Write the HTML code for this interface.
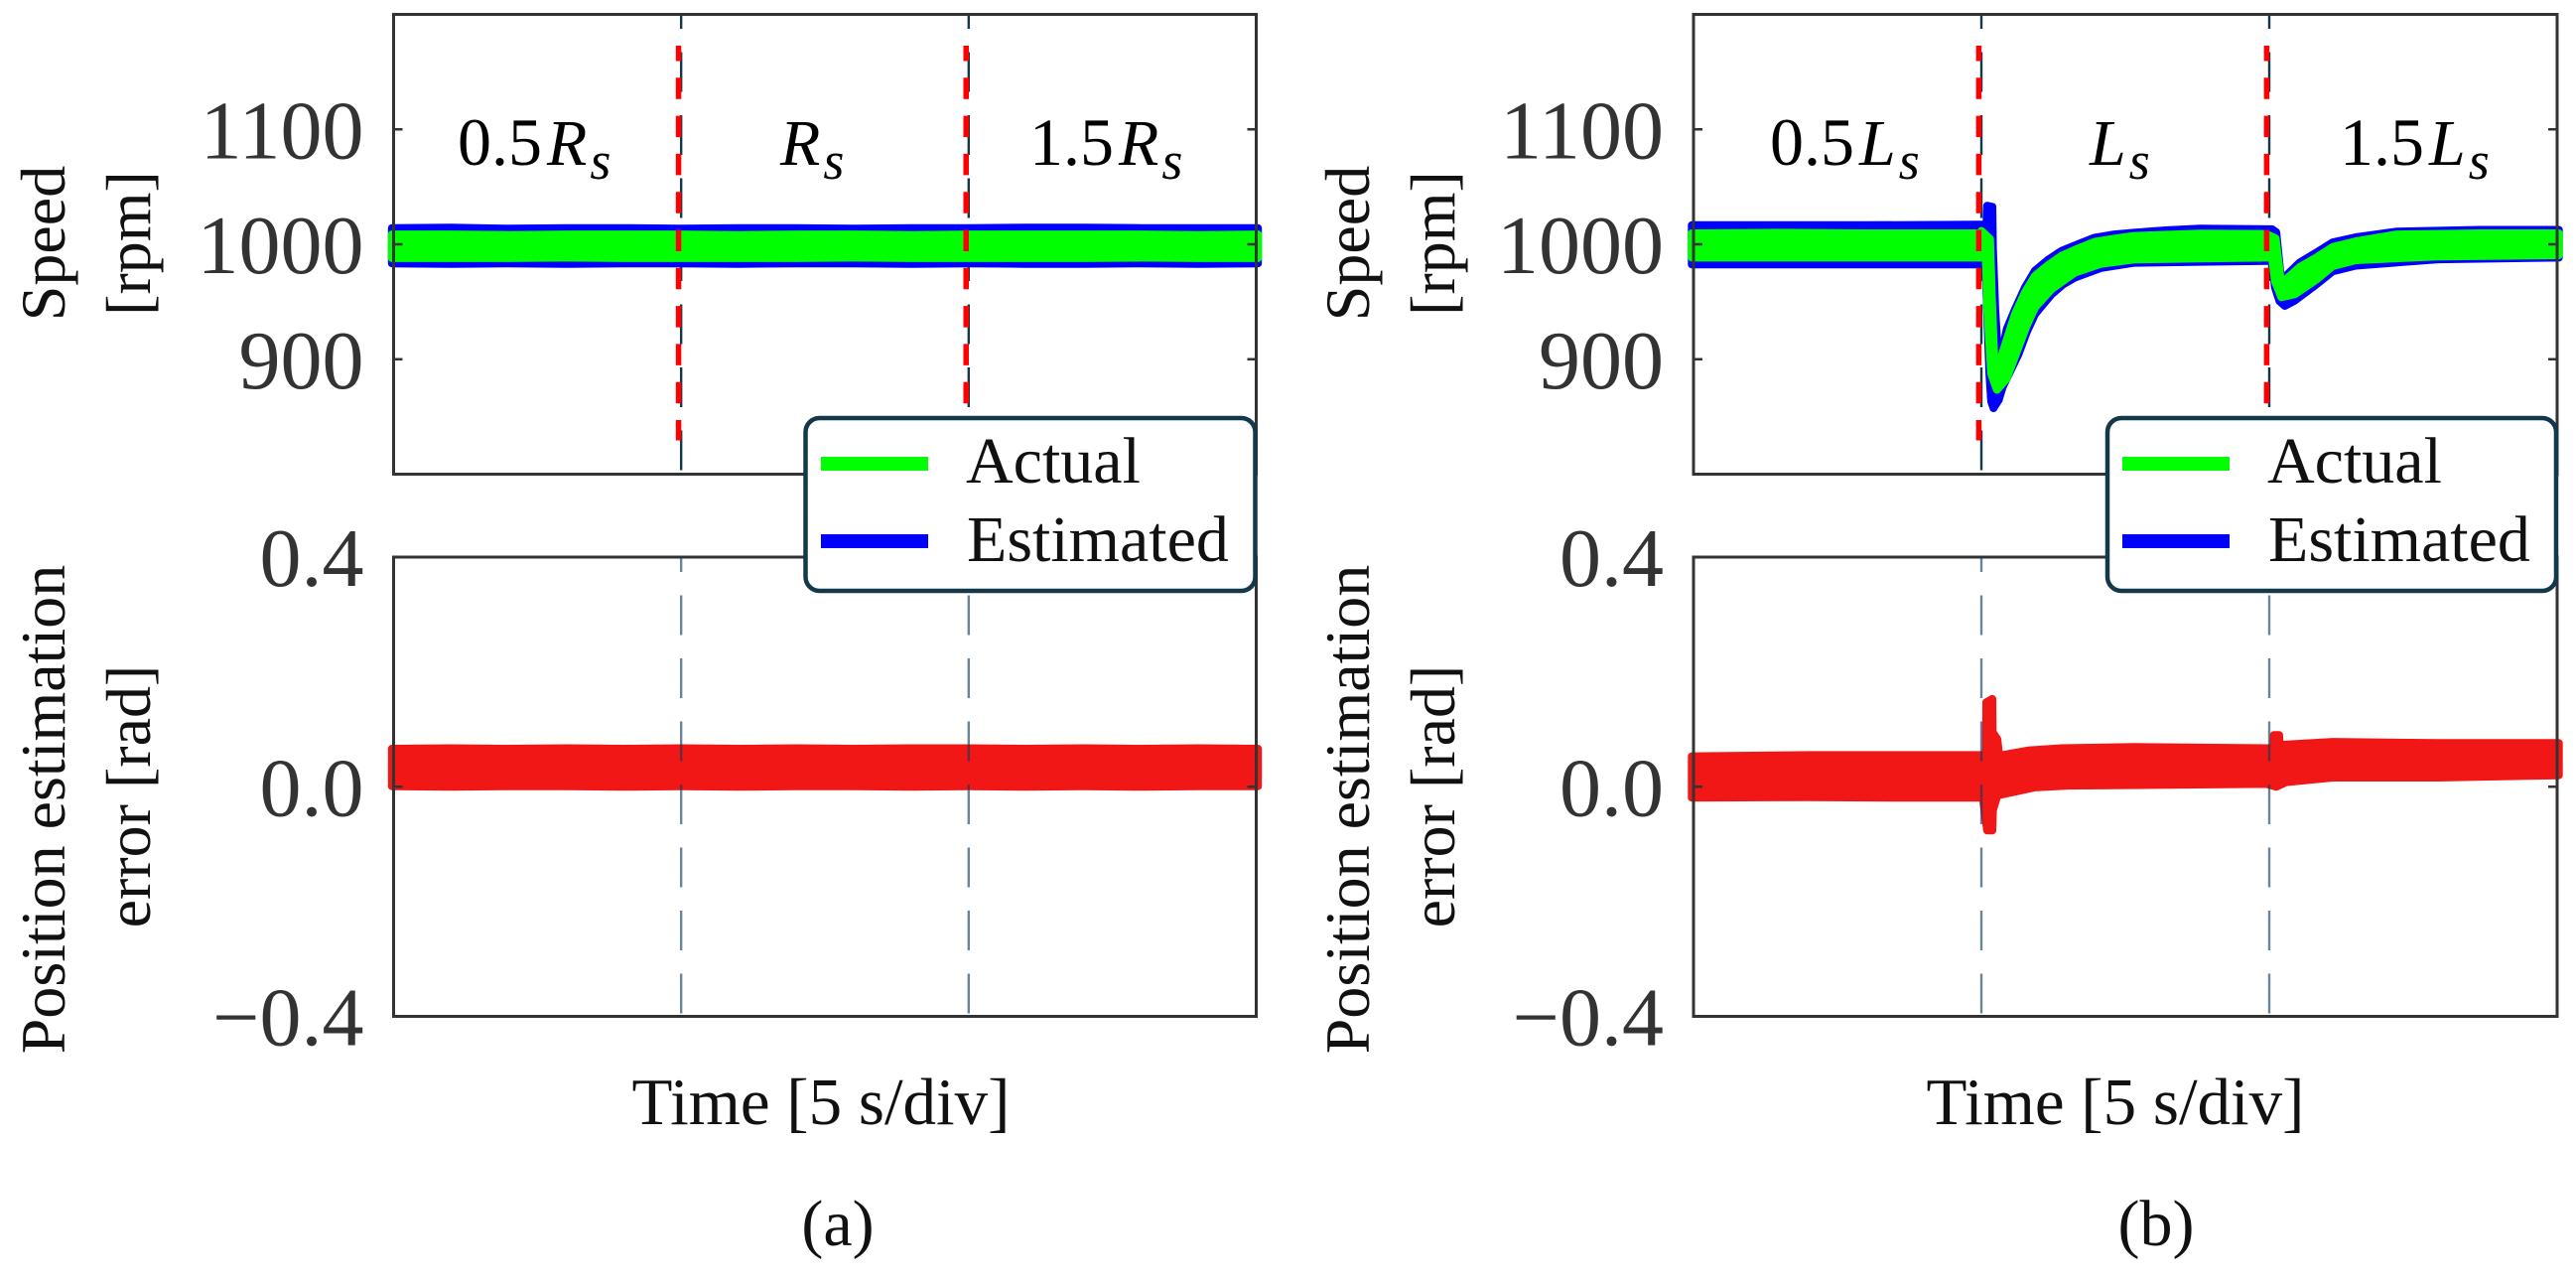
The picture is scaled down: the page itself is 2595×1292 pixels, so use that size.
<!DOCTYPE html>
<html>
<head>
<meta charset="utf-8">
<title>Speed and position estimation error under parameter variation</title>
<style>
html,body{margin:0;padding:0;background:#fff;}
svg{display:block;}
text{font-family:"Liberation Serif","Times New Roman",serif;fill:#111;}
.tick{fill:#333;font-size:84px;text-anchor:end;}
.label{font-size:64px;text-anchor:middle;}
.legend{font-size:66px;}
.phase{font-size:68px;fill:#000;}
.phase .v{font-style:italic;font-size:66px;}
.phase .s{font-style:italic;font-size:54px;}
</style>
</head>
<body>
<svg id="figure" xmlns="http://www.w3.org/2000/svg" width="2595" height="1292" viewBox="0 0 2595 1292">
<rect x="0" y="0" width="2595" height="1292" fill="#fff"/>
<g id="marks"></g>

<g>
<text class="label" transform="translate(65,245) rotate(-90)">Speed</text>
<text class="label" transform="translate(151,245) rotate(-90)">[rpm]</text>
<text class="label" transform="translate(65,815) rotate(-90)">Position estimation</text>
<text class="label" transform="translate(151,802) rotate(-90)">error [rad]</text>
</g>
<g>
<text class="label" transform="translate(1379,245) rotate(-90)">Speed</text>
<text class="label" transform="translate(1465,245) rotate(-90)">[rpm]</text>
<text class="label" transform="translate(1379,815) rotate(-90)">Position estimation</text>
<text class="label" transform="translate(1465,802) rotate(-90)">error [rad]</text>
</g>

<text class="phase" x="461" y="166">0.5<tspan class="v" dx="5">R</tspan><tspan class="s" dx="3" dy="14">s</tspan></text>
<text class="phase" x="786" y="166"><tspan class="v">R</tspan><tspan class="s" dx="3" dy="14">s</tspan></text>
<text class="phase" x="1037" y="166">1.5<tspan class="v" dx="5">R</tspan><tspan class="s" dx="3" dy="14">s</tspan></text>
<text class="phase" x="1783" y="166">0.5<tspan class="v" dx="5">L</tspan><tspan class="s" dx="3" dy="14">s</tspan></text>
<text class="phase" x="2105" y="166"><tspan class="v">L</tspan><tspan class="s" dx="3" dy="14">s</tspan></text>
<text class="phase" x="2357" y="166">1.5<tspan class="v" dx="5">L</tspan><tspan class="s" dx="3" dy="14">s</tspan></text>

<g>
<rect x="811.5" y="421" width="453" height="174" rx="14" ry="14" fill="#fff" stroke="#12384a" stroke-width="4.5"/>
<rect x="827" y="460" width="108" height="14" fill="#00ff00"/>
<text class="legend" x="973" y="486">Actual</text>
<rect x="827" y="538" width="108" height="14" fill="#0000ff"/>
<text class="legend" x="974" y="565">Estimated</text>
</g>
<g>
<rect x="2123" y="421" width="452" height="174" rx="14" ry="14" fill="#fff" stroke="#12384a" stroke-width="4.5"/>
<rect x="2138" y="460" width="108" height="14" fill="#00ff00"/>
<text class="legend" x="2284" y="486">Actual</text>
<rect x="2138" y="538" width="108" height="14" fill="#0000ff"/>
<text class="legend" x="2285" y="565">Estimated</text>
</g>

<text class="label" style="font-size:67px" x="827" y="1132">Time [5 s/div]</text>
<text class="label" style="font-size:67px" x="2131" y="1132">Time [5 s/div]</text>
<text class="label" style="font-size:66px" x="844" y="1254">(a)</text>
<text class="label" style="font-size:66px" x="2172" y="1254">(b)</text>
</svg>

<script>
// ---- data (time in seconds, speed in rpm, error in rad) ----
const speedTicks = [1100, 1000, 900];
const speedTickLabels = ["1100", "1000", "900"];
const errorTicks = [0.4, 0, -0.4];
const errorTickLabels = ["0.4", "0.0", "\u22120.4"];
const divisionTimes = [5, 10];

const flatTimeA = [-0.03, 1, 2, 3, 4, 5, 6, 7, 8, 9, 10, 11, 12, 13, 14, 15.03];
const speedEstUpperA = [1017.5, 1018, 1017, 1017.5, 1017.5, 1017, 1017.5, 1017.5, 1017, 1017.5, 1017.5, 1018, 1018, 1017.5, 1017.5, 1017.5];
const speedEstLowerA = [980, 979.5, 980, 979.5, 980, 980, 979.5, 980, 980, 979.5, 980, 979.5, 979.5, 980, 979.5, 980];
const speedActUpperA = [1012, 1012, 1011.5, 1012, 1012, 1012, 1011.5, 1012, 1012, 1011.5, 1012, 1012, 1012, 1012, 1011.5, 1012];
const speedActLowerA = [984.5, 984.5, 984.5, 985, 984.5, 984.5, 984.5, 984.5, 985, 984.5, 984.5, 984.5, 984.5, 985, 984.5, 984.5];
const errorUpperA = [0.073, 0.074, 0.073, 0.074, 0.073, 0.074, 0.073, 0.074, 0.073, 0.074, 0.074, 0.073, 0.074, 0.073, 0.074, 0.073];
const errorLowerA = [-0.006, -0.007, -0.006, -0.006, -0.007, -0.006, -0.007, -0.006, -0.006, -0.007, -0.006, -0.007, -0.006, -0.007, -0.006, -0.006];

const estUpperTimeB = [-0.03, 1.5, 3, 4.97, 5.09, 5.10, 5.19, 5.20, 5.24, 5.29, 5.34, 5.443, 5.586, 5.759, 5.931, 6.161, 6.391, 6.678, 6.966, 7.31, 7.655, 8.23, 8.8, 10.05, 10.12, 10.2, 10.27, 10.53, 10.82, 11.10, 11.5, 12.22, 13.64, 15.03];
const estUpperB = [1020, 1020, 1020, 1020.5, 1021, 1037, 1036, 1000, 947, 905, 905, 930, 947, 966, 980.5, 990, 997.7, 1003.5, 1009.2, 1012, 1013.6, 1015.6, 1017, 1016.5, 1014, 975, 975, 987.6, 996.3, 1005, 1009.5, 1014.5, 1016, 1016];
const estLowerTimeB = [-0.03, 1.5, 3, 4.97, 5.07, 5.14, 5.17, 5.21, 5.30, 5.37, 5.644, 5.787, 5.931, 6.218, 6.42, 6.62, 7.08, 7.655, 8.8, 9.95, 10.05, 10.10, 10.18, 10.27, 10.44, 10.82, 11.10, 11.5, 12.93, 15.03];
const estLowerB = [979, 979, 979, 979, 979, 884, 860, 854, 861, 872.5, 901, 920, 935.8, 953, 961.7, 967.5, 976, 980.5, 981.3, 982, 982, 959, 947, 943, 947.5, 961.7, 973, 978, 983.5, 985];
const actUpperTimeB = [-0.03, 1.5, 3, 4.97, 5.0, 5.15, 5.18, 5.224, 5.33, 5.586, 5.759, 5.931, 6.161, 6.391, 6.678, 6.966, 7.31, 7.655, 8.8, 9.95, 10.11, 10.2, 10.27, 10.53, 10.82, 11.10, 11.5, 12.22, 13.64, 15.03];
const actUpperB = [1013, 1013.5, 1013, 1013, 1015, 1008, 960, 903, 903, 943, 961.7, 976, 985.3, 993.4, 999.7, 1005.5, 1008.4, 1010.7, 1012.7, 1012.4, 1008.5, 972, 972, 983.6, 992, 1001, 1006, 1012, 1013, 1013];
const actLowerTimeB = [-0.03, 1.5, 3, 4.97, 5.08, 5.10, 5.17, 5.27, 5.44, 5.644, 5.787, 5.931, 6.218, 6.62, 7.08, 7.655, 8.8, 9.95, 10.05, 10.10, 10.21, 10.44, 10.82, 11.10, 11.5, 12.93, 15.03];
const actLowerB = [985, 985, 985, 985, 985, 942, 884, 870, 879.7, 907, 925.7, 941.6, 957.4, 971.8, 979.6, 983.3, 984.2, 985, 985, 964.6, 950.5, 953, 966, 977.5, 982.7, 986, 987];
const errUpperTimeB = [-0.03, 2, 3.5, 4.98, 5.08, 5.086, 5.19, 5.195, 5.276, 5.31, 5.81, 6.39, 7.66, 10.07, 10.08, 10.17, 10.18, 10.24, 11.10, 12.93, 15.03];
const errUpperB = [0.060, 0.062, 0.062, 0.062, 0.062, 0.154, 0.160, 0.102, 0.090, 0.061, 0.070, 0.074, 0.076, 0.074, 0.097, 0.097, 0.082, 0.080, 0.085, 0.083, 0.083];
const errLowerTimeB = [-0.03, 2, 3.5, 4.98, 5.03, 5.10, 5.19, 5.2, 5.28, 5.93, 6.5, 9.95, 10.12, 10.29, 11.10, 12.93, 15.03];
const errLowerB = [-0.026, -0.025, -0.026, -0.026, -0.028, -0.083, -0.083, -0.048, -0.022, -0.008, -0.005, -0.002, -0.007, 0.001, 0.009, 0.009, 0.013];

// ---- axis scales ----
const timeSpan = 15;
const speedMax = 1200, speedMin = 800;
const errorMax = 0.4, errorMin = -0.4;
function makeX(left, right) { return t => left + (t / timeSpan) * (right - left); }
function speedY(v) { return 14.5 + (speedMax - v) / (speedMax - speedMin) * 463; }
function errorY(v) { return 561 + (errorMax - v) / (errorMax - errorMin) * 462.5; }

const marks = document.getElementById('marks');
const NS = 'http://www.w3.org/2000/svg';
function mk(tag, attrs) {
  const el = document.createElementNS(NS, tag);
  for (const k in attrs) el.setAttribute(k, attrs[k]);
  marks.appendChild(el);
  return el;
}

function band(x, y, tU, u, tL, l, color) {
  const inset = 4;
  let d = '';
  tU.forEach((t, i) => { d += (i ? 'L' : 'M') + x(t).toFixed(1) + ' ' + (y(u[i]) + inset).toFixed(1); });
  for (let i = tL.length - 1; i >= 0; i--) { d += 'L' + x(tL[i]).toFixed(1) + ' ' + (y(l[i]) - inset).toFixed(1); }
  d += 'Z';
  return mk('path', { d: d, fill: color, stroke: color, 'stroke-width': inset * 2, 'stroke-linejoin': 'round' });
}

function frame(left, right, top, bottom, name) {
  const f = mk('rect', { x: left, y: top, width: right - left, height: bottom - top, fill: 'none', stroke: '#333', 'stroke-width': 3 });
  
  
}

function yTicks(ticks, labels, y, left, right, name) {
  ticks.forEach((v, i) => {
    const a = mk('line', { x1: left, x2: left + 9, y1: y(v), y2: y(v), stroke: '#333', 'stroke-width': 2.5 });
    
    
    const b = mk('line', { x1: right - 9, x2: right, y1: y(v), y2: y(v), stroke: '#333', 'stroke-width': 2.5 });
    
    
    const t = mk('text', { x: left - 30, y: y(v) + 29, class: 'tick' });
    t.textContent = labels[i];
    
    
  });
}

function vDash(px, y1, y2, offset, color, width, pattern, name) {
  const l = mk('line', { x1: px, x2: px, y1: y1, y2: y2, stroke: color, 'stroke-width': width, 'stroke-dasharray': pattern, 'stroke-dashoffset': offset });
  
  
}

function panel(left, right, p) {
  const x = makeX(left, right);
  // top (speed) panel: thin dividers below the data
  divisionTimes.forEach(t => {
    vDash(x(t), 14.5, 477.5, 25.5, '#12384a', 2.4, '40 23.5', 'speed-division-line');
  });
  const e = band(x, speedY, p.tEU, p.eU, p.tEL, p.eL, '#0000ff');
  
  
  const a = band(x, speedY, p.tAU, p.aU, p.tAL, p.aL, '#00ff00');
  
  
  divisionTimes.forEach(t => {
    vDash(x(t) - 2.6, 46, 443.5, 6, '#ff0000', 5.5, '21.5 16.8', 'parameter-change-marker');
  });
  frame(left, right, 14.5, 477.5, 'speed-plot-frame');
  yTicks(speedTicks, speedTickLabels, speedY, left, right, 'speed');

  // bottom (error) panel
  const r = band(x, errorY, p.tRU, p.rU, p.tRL, p.rL, '#f21717');
  
  
  divisionTimes.forEach(t => {
    vDash(x(t), 561, 1023.5, 25, 'rgba(16,58,88,0.62)', 2.4, '40 23.5', 'error-division-line');
  });
  frame(left, right, 561, 1023.5, 'error-plot-frame');
  yTicks(errorTicks, errorTickLabels, errorY, left, right, 'error');
}

panel(396.5, 1265.5, {
  tEU: flatTimeA, eU: speedEstUpperA, tEL: flatTimeA, eL: speedEstLowerA,
  tAU: flatTimeA, aU: speedActUpperA, tAL: flatTimeA, aL: speedActLowerA,
  tRU: flatTimeA, rU: errorUpperA, tRL: flatTimeA, rL: errorLowerA
});
panel(1706, 2576, {
  tEU: estUpperTimeB, eU: estUpperB, tEL: estLowerTimeB, eL: estLowerB,
  tAU: actUpperTimeB, aU: actUpperB, tAL: actLowerTimeB, aL: actLowerB,
  tRU: errUpperTimeB, rU: errUpperB, tRL: errLowerTimeB, rL: errLowerB
});
</script>
</body>
</html>
